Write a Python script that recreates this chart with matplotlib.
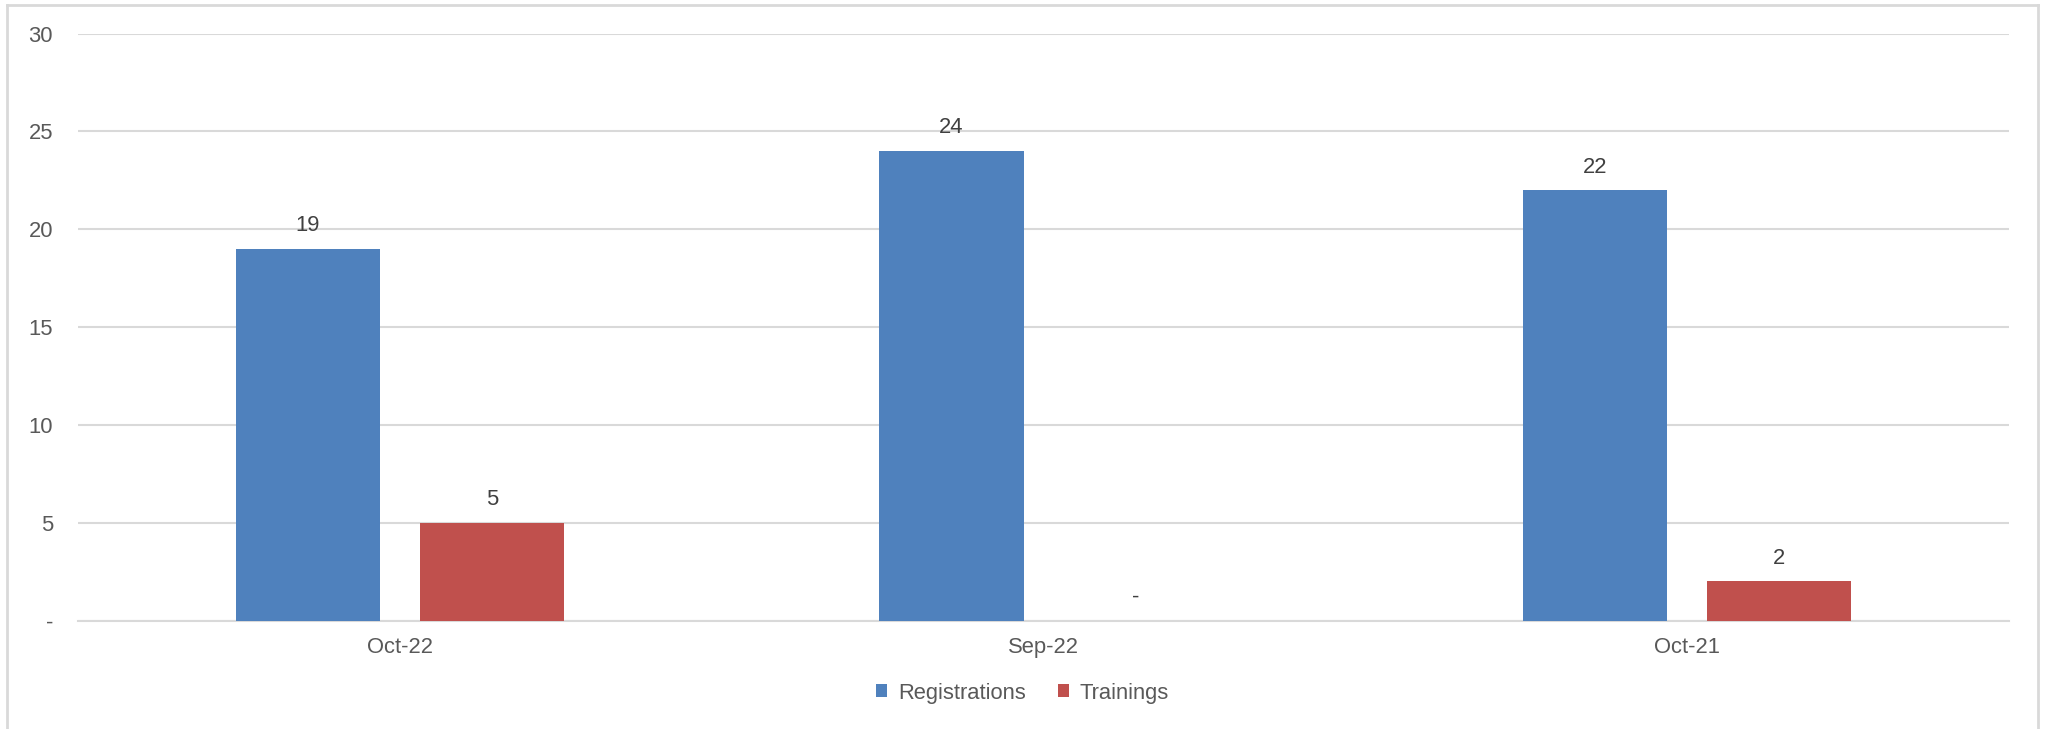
import matplotlib
matplotlib.use("Agg")
import matplotlib.pyplot as plt
from matplotlib.lines import Line2D
from matplotlib.patches import Patch
import numpy as np

plt.rcParams['font.family'] = ['Liberation Sans', 'DejaVu Sans']

categories = ["Oct-22", "Sep-22", "Oct-21"]
registrations = [19, 24, 22]
trainings = [5, 0, 2]
y_ticks = [0, 5, 10, 15, 20, 25, 30]

BLUE = "#4F81BD"
RED = "#C0504D"
GRID = "#D9D9D9"
TICK_COLOR = "#595959"
LABEL_COLOR = "#404040"
FS = 15.8

W, H, DPI = 2045, 729, 100
fig = plt.figure(figsize=(W / DPI, H / DPI), dpi=DPI)
ax = fig.add_axes([78 / W, 1 - 620.5 / H, (2009 - 78) / W, (620.5 - 33.5) / H])

x = np.arange(len(categories))
width = 0.224
offset = 0.143

bars_r = ax.bar(x - offset, registrations, width, color=BLUE, zorder=3)
bars_t = ax.bar(x + offset, trainings, width, color=RED, zorder=3)


def fmt(v):
    return "-" if v == 0 else f"{v:g}"


for bars, vals in ((bars_r, registrations), (bars_t, trainings)):
    for b, v in zip(bars, vals):
        ax.annotate(fmt(v), (b.get_x() + b.get_width() / 2, v),
                    xytext=(0, 16.5), textcoords="offset points",
                    ha="center", va="center", fontsize=FS, color=LABEL_COLOR)

ax.set_xlim(-0.5, len(categories) - 0.5)
ax.set_ylim(0, 30)
ax.set_yticks(y_ticks)
ax.set_yticklabels([fmt(v) for v in y_ticks])
ax.set_xticks(x)
ax.set_xticklabels(categories)
ax.tick_params(axis="y", length=0, pad=18, labelsize=FS, labelcolor=TICK_COLOR)
ax.tick_params(axis="x", length=0, pad=12, labelsize=FS, labelcolor=TICK_COLOR)

ax.grid(axis="y", color=GRID, linewidth=1.5, zorder=0)
for side in ("left", "right", "top"):
    ax.spines[side].set_visible(False)
ax.spines["bottom"].set_color(GRID)
ax.spines["bottom"].set_linewidth(1.5)

handles = [Patch(facecolor=BLUE, label="Registrations"),
           Patch(facecolor=RED, label="Trainings")]
fig.legend(handles=handles, loc="center", bbox_to_anchor=(1022.5 / W, 1 - 693 / H),
           ncol=2, frameon=False, fontsize=FS, labelcolor=TICK_COLOR,
           handlelength=0.5, handleheight=0.5, handletextpad=0.5, columnspacing=1.45)

# chart-area border
border = dict(color=GRID, linewidth=2, transform=fig.transFigure)
fig.add_artist(Line2D([7 / W, 7 / W], [0, 1 - 5 / H], **border))
fig.add_artist(Line2D([2038 / W, 2038 / W], [0, 1 - 5 / H], **border))
fig.add_artist(Line2D([7 / W, 2038 / W], [1 - 5 / H, 1 - 5 / H], **border))

fig.savefig("out.png", dpi=DPI)
